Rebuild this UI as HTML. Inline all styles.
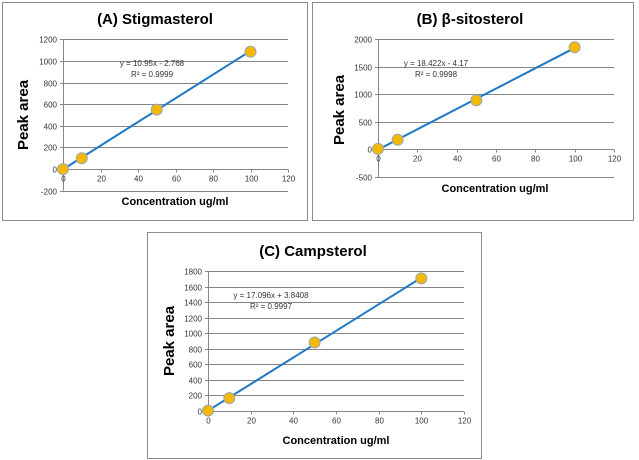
<!DOCTYPE html>
<html><head><meta charset="utf-8"><style>
body{margin:0;background:#fff;width:639px;height:460px;overflow:hidden;font-family:"Liberation Sans",sans-serif}
svg{position:absolute;left:0;top:0}
</style></head><body>
<svg id="s" width="639" height="460"></svg>
<script>
const xTicks=[0,20,40,60,80,100,120];
const concA=[0,10,50,100]; const areaA=[0,100,550,1085];
const concB=[0,10,50,100]; const areaB=[10,175,890,1850];
const concC=[0,10,50,100]; const areaC=[5,165,880,1705];
const yTicksA=[-200,0,200,400,600,800,1000,1200];
const yTicksB=[-500,0,500,1000,1500,2000];
const yTicksC=[0,200,400,600,800,1000,1200,1400,1600,1800];
const fitA=[10.95,-2.768], fitB=[18.422,-4.17], fitC=[17.096,3.8408];
const titles=["(A) Stigmasterol","(B) β-sitosterol","(C) Campsterol"];
const eqs=[["y = 10.95x - 2.768","R² = 0.9999"],["y = 18.422x - 4.17","R² = 0.9998"],["y = 17.096x + 3.8408","R² = 0.9997"]];
const NS="http://www.w3.org/2000/svg",S=document.getElementById('s');
function el(t,a,p){const e=document.createElementNS(NS,t);for(const k in a)e.setAttribute(k,a[k]);(p||S).appendChild(e);return e;}
const cfg=[
 {box:[2,2,305,218],x0:63,x1:288,yTop:39.3,yBot:190.7,ymin:-200,ymax:1200,yt:yTicksA,xs:concA,ys:areaA,fit:fitA,tx:155,ty:24,ylx:23,yly:115,xtx:175,xty:205,ex:152,ey:66},
 {box:[312,2,321,218],x0:378,x1:614,yTop:39,yBot:177,ymin:-500,ymax:2000,yt:yTicksB,xs:concB,ys:areaB,fit:fitB,tx:470,ty:24,ylx:339,yly:110,xtx:495,xty:192,ex:436,ey:66},
 {box:[147,232,334,226],x0:208,x1:464,yTop:271,yBot:411,ymin:0,ymax:1800,yt:yTicksC,xs:concC,ys:areaC,fit:fitC,tx:313,ty:256,ylx:169,yly:341,xtx:336,xty:444,ex:271,ey:298}
];
const names=['a','b','c'];
cfg.forEach((c,i)=>{
 const g=el('g',{});
 
 
 const b=el('rect',{x:c.box[0]+.5,y:c.box[1]+.5,width:c.box[2],height:c.box[3],fill:'#fff',stroke:'#8c8c8c'},g);
 
 const X=v=>c.x0+(v-0)/120*(c.x1-c.x0);
 const Y=v=>c.yBot-(v-c.ymin)/(c.ymax-c.ymin)*(c.yBot-c.yTop);
 c.yt.forEach(t=>{
  const y=Math.round(Y(t))+.5;
  if(t!==0){const l=el('line',{x1:c.x0,x2:c.x1,y1:y,y2:y,stroke:'#868686','stroke-width':1},g);}
  el('line',{x1:c.x0-3,x2:c.x0,y1:y,y2:y,stroke:'#868686'},g);
  const tx=el('text',{x:c.x0-6,y:y+3,'font-size':'8','text-anchor':'end',fill:'#333'},g);tx.textContent=t;
  
 });
 const y0=Math.round(Y(0))+.5;
 const xa=el('line',{x1:c.x0,x2:c.x1,y1:y0,y2:y0,stroke:'#868686'},g);
 const ya=el('line',{x1:c.x0+.5,x2:c.x0+.5,y1:c.yTop,y2:c.yBot,stroke:'#868686'},g);
 xTicks.forEach(t=>{
  const x=Math.round(X(t))+.5;
  el('line',{x1:x,x2:x,y1:y0,y2:y0+3,stroke:'#868686'},g);
  const tx=el('text',{x:x,y:y0+12,'font-size':'8','text-anchor':'middle',fill:'#333'},g);tx.textContent=t;
  
 });
 const ln=el('line',{x1:X(0),y1:Y(c.fit[1]),x2:X(100),y2:Y(c.fit[0]*100+c.fit[1]),stroke:'#1f77c4','stroke-width':2},g);
 
 c.xs.forEach((v,j)=>{
  const p=el('circle',{cx:X(v),cy:Y(c.ys[j]),r:5.5,fill:'#f5b800',stroke:'#9aa7b5','stroke-width':1},g);
  
 });
 const t=el('text',{x:c.tx,y:c.ty,'font-size':'15','font-weight':'bold','text-anchor':'middle',fill:'#000'},g);t.textContent=titles[i];
 
 const yl=el('text',{x:0,y:0,'font-size':'15','font-weight':'bold','text-anchor':'middle',fill:'#000',transform:`translate(${c.ylx+5},${c.yly}) rotate(-90)`},g);yl.textContent='Peak area';
 
 const xl=el('text',{x:c.xtx,y:c.xty,'font-size':'11','font-weight':'bold','text-anchor':'middle',fill:'#000'},g);xl.textContent='Concentration ug/ml';
 
 const e1=el('text',{x:c.ex,y:c.ey,'font-size':'8','text-anchor':'middle',fill:'#333'},g);e1.textContent=eqs[i][0];
 
 const e2=el('text',{x:c.ex,y:c.ey+11,'font-size':'8','text-anchor':'middle',fill:'#333'},g);e2.textContent=eqs[i][1];
 
});
</script>
</body></html>
